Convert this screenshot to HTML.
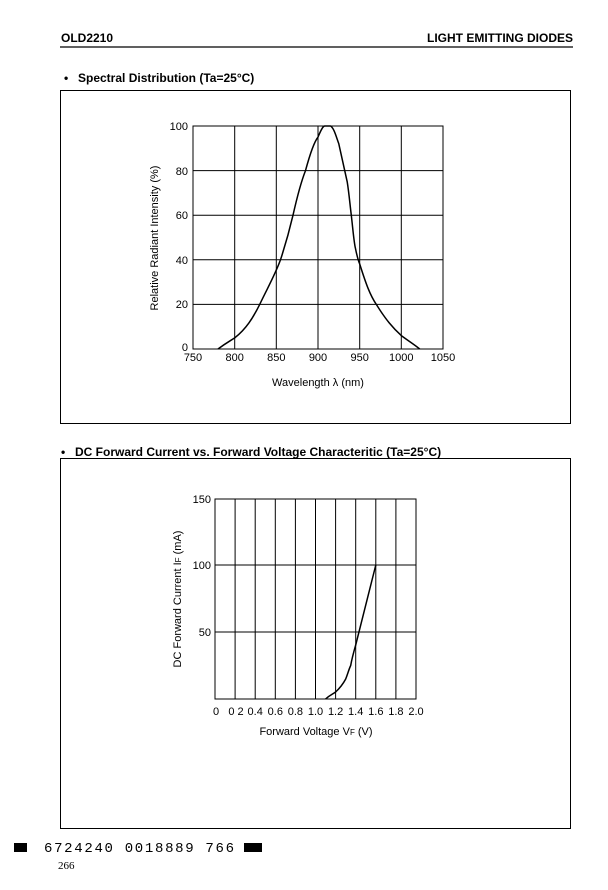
<!DOCTYPE html>
<html><head><meta charset="utf-8"><style>
body{margin:0;width:608px;height:890px;background:#fff;font-family:"Liberation Sans",Arial,sans-serif;overflow:hidden}
svg{position:absolute;left:0;top:0}
</style></head><body>
<svg width="608" height="890" viewBox="0 0 608 890" font-family="Liberation Sans, Arial, sans-serif">
<text x="61" y="42" font-size="12" font-weight="bold">OLD2210</text>
<text x="573" y="42" font-size="12" font-weight="bold" text-anchor="end">LIGHT EMITTING DIODES</text>
<line x1="60" y1="47" x2="573" y2="47" stroke="#000" stroke-width="1.2"/>
<text x="64" y="82" font-size="12" font-weight="bold">•</text>
<text x="78" y="82" font-size="12" font-weight="bold">Spectral Distribution  (Ta=25°C)</text>
<rect x="60.5" y="90.5" width="510" height="333" fill="none" stroke="#000" stroke-width="1"/>
<g stroke="#000" stroke-width="1" fill="none">
<rect x="193" y="126" width="250" height="223"/>
<line x1="234.7" y1="126" x2="234.7" y2="349"/><line x1="276.3" y1="126" x2="276.3" y2="349"/>
<line x1="318" y1="126" x2="318" y2="349"/><line x1="359.7" y1="126" x2="359.7" y2="349"/>
<line x1="401.3" y1="126" x2="401.3" y2="349"/>
<line x1="193" y1="170.6" x2="443" y2="170.6"/><line x1="193" y1="215.2" x2="443" y2="215.2"/>
<line x1="193" y1="259.8" x2="443" y2="259.8"/><line x1="193" y1="304.4" x2="443" y2="304.4"/>
<path stroke-width="1.5" d="M218,349 C226,343 230,341 234.7,337.9 C246,329 253,318 259.7,304.4 C268,287 275,275 280.5,259.8 C287,240 290,228 293,215.2 C298,193 301,182 305.5,170.6 C310,154 314,142 318,137.1 C321,130 323,126 324.7,126 L330.5,126 C334,128 336,136 338.8,143.8 C342,158 345,172 347.2,181.8 C349,193 350,205 351.3,215.2 C353,230 354,243 355.5,248.6 C357,256 358,260 359.7,264 C366,284 370,295 376.3,304.4 C386,320 393,328 401.3,335.6 C410,342 415,345 419.7,349"/>
</g>
<g font-size="11" text-anchor="end">
<text x="188" y="130">100</text><text x="188" y="175">80</text><text x="188" y="219">60</text>
<text x="188" y="264">40</text><text x="188" y="308">20</text><text x="188" y="351">0</text>
</g>
<g font-size="11" text-anchor="middle">
<text x="193" y="361">750</text><text x="234.7" y="361">800</text><text x="276.3" y="361">850</text>
<text x="318" y="361">900</text><text x="359.7" y="361">950</text><text x="401.3" y="361">1000</text><text x="443" y="361">1050</text>
<text x="318" y="386">Wavelength  λ  (nm)</text>
<text transform="translate(158,238) rotate(-90)">Relative Radiant Intensity  (%)</text>
</g>
<text x="61" y="456" font-size="12" font-weight="bold">•</text>
<text x="75" y="456" font-size="12" font-weight="bold">DC Forward Current vs. Forward Voltage Characteritic  (Ta=25°C)</text>
<rect x="60.5" y="458.5" width="510" height="370" fill="none" stroke="#000" stroke-width="1"/>
<g stroke="#000" stroke-width="1" fill="none">
<rect x="215" y="499" width="201" height="200"/>
<line x1="235.1" y1="499" x2="235.1" y2="699"/><line x1="255.2" y1="499" x2="255.2" y2="699"/>
<line x1="275.3" y1="499" x2="275.3" y2="699"/><line x1="295.4" y1="499" x2="295.4" y2="699"/>
<line x1="315.5" y1="499" x2="315.5" y2="699"/><line x1="335.6" y1="499" x2="335.6" y2="699"/>
<line x1="355.7" y1="499" x2="355.7" y2="699"/><line x1="375.8" y1="499" x2="375.8" y2="699"/>
<line x1="395.9" y1="499" x2="395.9" y2="699"/>
<line x1="215" y1="565" x2="416" y2="565"/><line x1="215" y1="632" x2="416" y2="632"/>
<path stroke-width="1.5" d="M325.5,699 C330,695 333,694 335.6,692 C340,688 343,684 345.7,679 C348,673 349,669 350.7,665.5 C352,658 354,651 355.7,645 L375.8,565"/>
</g>
<g font-size="11" text-anchor="end">
<text x="211" y="503">150</text><text x="211" y="569">100</text><text x="211" y="636">50</text>
</g>
<g font-size="11" text-anchor="middle">
<text x="216" y="715">0</text><text x="236" y="715">0 2</text><text x="255.2" y="715">0.4</text>
<text x="275.3" y="715">0.6</text><text x="295.4" y="715">0.8</text><text x="315.5" y="715">1.0</text>
<text x="335.6" y="715">1.2</text><text x="355.7" y="715">1.4</text><text x="375.8" y="715">1.6</text>
<text x="395.9" y="715">1.8</text><text x="416" y="715">2.0</text>
<text x="316" y="735">Forward Voltage V<tspan font-size="8">F</tspan>  (V)</text>
<text transform="translate(181,599) rotate(-90)">DC Forward Current  I<tspan font-size="8">F</tspan>  (mA)</text>
</g>
<rect x="14" y="843" width="13" height="9" fill="#000"/>
<text x="44" y="852" font-size="14" font-family="Liberation Mono, monospace" textLength="190" lengthAdjust="spacing">6724240 0018889 766</text>
<rect x="244" y="843" width="18" height="9" fill="#000"/>
<text x="58" y="869" font-size="11" font-family="Liberation Serif, serif">266</text>
</svg>
</body></html>
